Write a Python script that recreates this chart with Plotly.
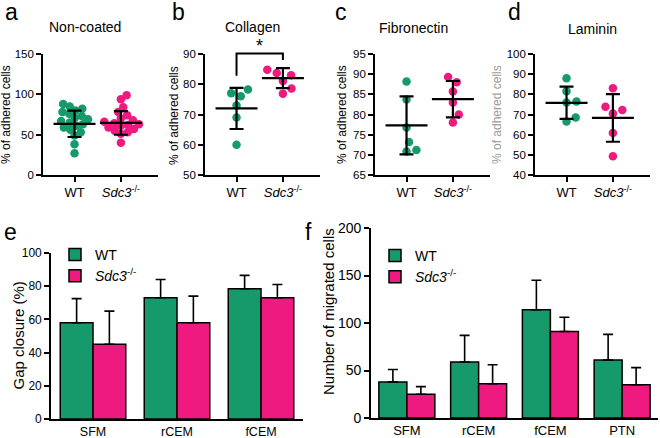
import plotly.graph_objects as go

W, H = 660, 438
FONT = "Arial, Liberation Sans, sans-serif"
GREEN = "#179a6b"
PINK = "#ef1a80"

# ---------------- data ----------------
group_ticks = ["WT", "<i>Sdc3</i><sup>-/-</sup>"]

noncoated_wt = [88, 85, 82, 80, 78, 76, 73, 71, 69, 67, 65, 63, 61, 59, 56, 53, 49, 38, 27]
noncoated_ko = [99, 94, 84, 78, 74, 70, 68, 66, 64, 63, 62, 61, 59, 57, 55, 53, 51, 40]
noncoated_mean = [63.5, 64.5]
noncoated_sd = [16.4, 14.6]

collagen_wt = [77.0, 76.0, 78.3, 73.0, 69.0, 60.0]
collagen_ko = [84.8, 83.7, 83.0, 81.1, 76.9, 78.6]
collagen_mean = [72.0, 82.0]
collagen_sd = [6.8, 3.3]

fibronectin_wt = [88.2, 83.7, 76.8, 73.2, 70.8, 71.2]
fibronectin_ko = [88.0, 89.3, 85.7, 83.0, 78.0, 80.0]
fibronectin_mean = [77.3, 83.8]
fibronectin_sd = [7.2, 4.5]

laminin_wt = [88.0, 81.5, 76.0, 76.5, 66.5, 68.5]
laminin_ko = [83.0, 72.2, 73.8, 70.5, 60.8, 49.3]
laminin_mean = [75.8, 68.3]
laminin_sd = [8.0, 11.8]

gap_categories = ["SFM", "rCEM", "fCEM"]
gap_wt = [58, 73, 78.5]
gap_wt_sd = [14.5, 11, 8]
gap_ko = [45, 58, 73]
gap_ko_sd = [20, 16, 8]

mig_categories = ["SFM", "rCEM", "fCEM", "PTN"]
mig_wt = [38, 59, 114, 61]
mig_wt_sd = [13, 28, 31, 27]
mig_ko = [25, 36, 91, 35]
mig_ko_sd = [8, 20, 15, 18]

# ---------------- layout geometry (pixels) ----------------
def xd(a, b):
    return [a / W, b / W]

def yd(top, bottom):
    return [1 - bottom / H, 1 - top / H]

STRIP_RANGE = [-0.68, 1.8]
strip_panels = [
    dict(title="Non-coated", wt=noncoated_wt, ko=noncoated_ko, mean=noncoated_mean, sd=noncoated_sd,
         yrange=[0, 150], dtick=50, dom=(43, 158), tx=85, ty=27, letter="a", lx=3, ly=12, ytx=6, sw=7.0),
    dict(title="Collagen", wt=collagen_wt, ko=collagen_ko, mean=collagen_mean, sd=collagen_sd,
         yrange=[50, 90], dtick=10, dom=(205, 320), tx=252, ty=27, letter="b", lx=170, ly=12, ytx=174, sw=10.0),
    dict(title="Fibronectin", wt=fibronectin_wt, ko=fibronectin_ko, mean=fibronectin_mean, sd=fibronectin_sd,
         yrange=[65, 95], dtick=5, dom=(375, 490), tx=413, ty=28, letter="c", lx=333, ly=12, ytx=342, sw=10.0),
    dict(title="Laminin", wt=laminin_wt, ko=laminin_ko, mean=laminin_mean, sd=laminin_sd,
         yrange=[40, 100], dtick=10, dom=(535, 650), tx=592, ty=29, letter="d", lx=506, ly=12, ytx=None, sw=10.0),
]
STRIP_TOP, STRIP_BOTTOM = 54, 175
DOT = 8.5


def swarm(values, lo, hi, h_px, diam):
    py = [(v - lo) / (hi - lo) * h_px for v in values]
    order = sorted(range(len(values)), key=lambda i: py[i])
    placed = []
    offs = [0.0] * len(values)
    for i in order:
        y = py[i]
        cands = [0.0]
        for xo, yo in placed:
            dy = y - yo
            if abs(dy) < diam:
                dx = (diam ** 2 - dy ** 2) ** 0.5
                cands += [xo + dx, xo - dx]
        cands.sort(key=abs)
        for c in cands:
            if all((c - xo) ** 2 + (y - yo) ** 2 >= diam ** 2 - 1e-6 for xo, yo in placed):
                offs[i] = c
                break
        placed.append((offs[i], y))
    return offs


fig = go.Figure()
layout = dict(
    width=W, height=H, margin=dict(l=0, r=0, t=0, b=0, pad=0, autoexpand=False),
    paper_bgcolor="white", plot_bgcolor="white",
    font=dict(family=FONT, color="black"),
    showlegend=True, barmode="group", bargap=0.22, bargroupgap=0,
    annotations=[], shapes=[],
)

axis_common = dict(showline=True, linecolor="black", linewidth=1.6, showgrid=False, zeroline=False,
                   ticks="outside", ticklen=5, tickwidth=1.6, tickcolor="black", automargin=False)

for k, p in enumerate(strip_panels):
    n = k + 1
    xa = "x" if n == 1 else f"x{n}"
    ya = "y" if n == 1 else f"y{n}"
    x0, x1 = p["dom"]
    px_per_unit = (x1 - x0) / (STRIP_RANGE[1] - STRIP_RANGE[0])
    h_px = STRIP_BOTTOM - STRIP_TOP
    lo, hi = p["yrange"]
    for gi, (vals, col) in enumerate([(p["wt"], GREEN), (p["ko"], PINK)]):
        offs = swarm(vals, lo, hi, h_px, p["sw"])
        fig.add_trace(go.Scatter(
            x=[gi + o / px_per_unit for o in offs], y=vals, mode="markers",
            marker=dict(size=DOT, color=col, line=dict(width=0)),
            xaxis=xa, yaxis=ya, showlegend=False, cliponaxis=False, hoverinfo="y"))
    fig.add_trace(go.Scatter(
        x=[0, 1], y=p["mean"], mode="markers",
        marker=dict(symbol="line-ew", size=30, color="black", line=dict(width=2.2, color="black")),
        error_y=dict(type="data", array=p["sd"], color="black", thickness=2.2, width=7),
        xaxis=xa, yaxis=ya, showlegend=False, cliponaxis=False))
    layout["xaxis" if n == 1 else f"xaxis{n}"] = dict(
        axis_common, domain=xd(x0, x1), range=STRIP_RANGE, tickvals=[0, 1], ticktext=group_ticks,
        tickfont=dict(size=13), anchor=ya)
    layout["yaxis" if n == 1 else f"yaxis{n}"] = dict(
        axis_common, domain=yd(STRIP_TOP, STRIP_BOTTOM), range=p["yrange"], dtick=p["dtick"],
        tickfont=dict(size=11.5), anchor=xa)
    layout["annotations"].append(dict(
        text=p["title"], x=p["tx"] / W, y=1 - p["ty"] / H, xref="paper", yref="paper",
        showarrow=False, font=dict(size=14), xanchor="center", yanchor="middle"))
    layout["annotations"].append(dict(
        text=p["letter"], x=p["lx"] / W, y=1 - p["ly"] / H, xref="paper", yref="paper",
        showarrow=False, font=dict(size=23), xanchor="left", yanchor="middle"))
    if p["ytx"] is not None:
        layout["annotations"].append(dict(
            text="% of adhered cells", x=p["ytx"] / W, y=1 - 115 / H, xref="paper", yref="paper",
            showarrow=False, textangle=-90, font=dict(size=12), xanchor="center", yanchor="middle"))

# partially hidden axis title of panel d
layout["annotations"].append(dict(
    text="% of adhered cells", x=497 / W, y=1 - 115 / H, xref="paper", yref="paper",
    showarrow=False, textangle=-90, font=dict(size=12, color="#9a9a9a"), xanchor="center", yanchor="middle"))

# significance bracket in panel b
lo, hi = strip_panels[1]["yrange"]
def dom2(v):
    return (v - lo) / (hi - lo)
layout["shapes"].append(dict(
    type="path", xref="x2", yref="y2 domain",
    path=f"M 0,{dom2(82.8)} L 0,{dom2(90.2)} L 1,{dom2(90.2)} L 1,{dom2(88.0)}",
    line=dict(color="black", width=2)))
layout["annotations"].append(dict(
    text="*", x=0.5, y=dom2(92.6), xref="x2", yref="y2 domain", showarrow=False,
    font=dict(size=18), xanchor="center", yanchor="middle"))

# ---------------- bar panels ----------------
bar_panels = [
    dict(n=5, cats=gap_categories, wt=gap_wt, wtsd=gap_wt_sd, ko=gap_ko, kosd=gap_ko_sd,
         dom=(51, 303), top=253, bottom=419, yrange=[0, 100], dtick=20, tick=12, xtick=12.5, legend="legend",
         ytitle="Gap closure (%)", ytx=17.5, yty=336, letter="e", lx=2, ly=232),
    dict(n=6, cats=mig_categories, wt=mig_wt, wtsd=mig_wt_sd, ko=mig_ko, kosd=mig_ko_sd,
         dom=(371, 658), top=228, bottom=418, yrange=[0, 200], dtick=50, tick=14, xtick=13, legend="legend2",
         ytitle="Number of migrated cells", ytx=328, yty=312, letter="f", lx=303, ly=232),
]
for p in bar_panels:
    n = p["n"]
    for name, vals, sd, col in [("WT", p["wt"], p["wtsd"], GREEN),
                                ("<i>Sdc3</i><sup>-/-</sup>", p["ko"], p["kosd"], PINK)]:
        fig.add_trace(go.Bar(
            x=p["cats"], y=vals, name=name, xaxis=f"x{n}", yaxis=f"y{n}", legend=p["legend"],
            marker=dict(color=col, line=dict(color="black", width=1.5)),
            error_y=dict(type="data", array=sd, arrayminus=[0] * len(sd), symmetric=False,
                         color="black", thickness=1.6, width=5)))
    layout[f"xaxis{n}"] = dict(axis_common, ticks="", domain=xd(*p["dom"]), anchor=f"y{n}",
                               tickfont=dict(size=p["xtick"]))
    layout[f"yaxis{n}"] = dict(axis_common, domain=yd(p["top"], p["bottom"]), range=p["yrange"],
                               dtick=p["dtick"], tickfont=dict(size=p["tick"]), anchor=f"x{n}")
    layout["annotations"].append(dict(
        text=p["ytitle"], x=p["ytx"] / W, y=1 - p["yty"] / H, xref="paper", yref="paper",
        showarrow=False, textangle=-90, font=dict(size=15), xanchor="center", yanchor="middle"))
    layout["annotations"].append(dict(
        text=p["letter"], x=p["lx"] / W, y=1 - p["ly"] / H, xref="paper", yref="paper",
        showarrow=False, font=dict(size=23), xanchor="left", yanchor="middle"))

legend_common = dict(xanchor="left", yanchor="top", bgcolor="rgba(0,0,0,0)", font=dict(size=14),
                     itemwidth=30, tracegroupgap=0, traceorder="normal")
layout["legend"] = dict(legend_common, x=55 / W, y=1 - 239 / H)
layout["legend2"] = dict(legend_common, x=375 / W, y=1 - 240 / H)

fig.update_layout(**layout)
fig.write_html("out.html", config={"displayModeBar": False},
               post_script="document.body.style.margin='0';document.body.style.padding='0';")
